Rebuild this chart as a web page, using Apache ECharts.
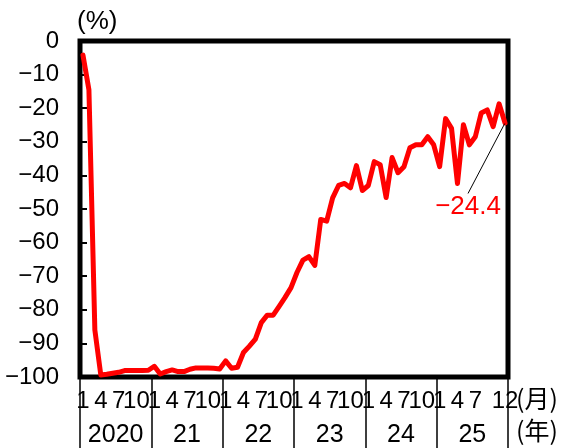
<!DOCTYPE html>
<html>
<head>
<meta charset="utf-8">
<script src="https://cdn.jsdelivr.net/npm/echarts@6/dist/echarts.min.js"></script>
<style>
  html, body { margin: 0; padding: 0; background: #fff; }
  #chart { width: 569px; height: 448px; }
</style>
</head>
<body>
<div id="chart"></div>
<script>
// Year groups shown under the month row
const years = ['2020', '21', '22', '23', '24', '25'];

// Year-on-year change (%) by month
const v2020 = [-4.2, -14.5, -86.0, -99.4, -99.2, -98.9, -98.6, -98.1, -98.1, -98.1, -98.1, -98.0];
const v2021 = [-96.8, -99.1, -98.4, -97.9, -98.4, -98.4, -97.7, -97.3, -97.3, -97.3, -97.4, -97.6];
const v2022 = [-95.2, -97.4, -97.1, -92.7, -90.8, -88.7, -83.8, -81.6, -81.6, -79.0, -76.3, -73.4];
const v2023 = [-68.9, -65.2, -64.2, -66.8, -53.1, -53.6, -46.7, -43.0, -42.4, -43.7, -37.1, -44.5];
const v2024 = [-43.0, -35.9, -36.8, -46.6, -34.7, -39.2, -37.4, -31.8, -30.9, -30.9, -28.5, -30.9];
const v2025 = [-37.4, -23.1, -26.0, -42.4, -24.9, -30.9, -28.5, -21.4, -20.5, -25.5, -18.7, -24.4];

// Month numbers printed on the axis (last year ends on 12)
const monthTicks = [1, 4, 7, 10];
const lastYearTicks = [1, 4, 7, 12];

const yTicks = { min: -100, max: 0, step: 10 };

const values = [].concat(v2020, v2021, v2022, v2023, v2024, v2025);
const categories = [];
years.forEach(function (y) {
  for (let m = 1; m <= 12; m++) categories.push(y + '-' + m);
});

const SANS = "'Liberation Sans', 'Noto Sans', sans-serif";
const CJK = "'Noto Sans CJK JP', sans-serif";
const minus = function (s) { return String(s).replace('-', '\u2212'); };

const lastIdx = values.length - 1;
const seriesData = values.map(function (v, i) {
  if (i !== lastIdx) return v;
  return {
    value: v,
    symbol: 'circle',
    symbolSize: 1,
    label: {
      show: true,
      position: 'bottom',
      distance: 0,
      color: '#ff0000',
      fontFamily: SANS,
      fontSize: 26,
      padding: [6, 0, 0, 0],
      formatter: function (p) { return minus(p.value.toFixed(1)); }
    },
    labelLine: { show: true, lineStyle: { color: '#000', width: 1 } }
  };
});

function monthShown(idx) {
  const yi = Math.floor(idx / 12);
  const m = idx % 12 + 1;
  const list = yi === years.length - 1 ? lastYearTicks : monthTicks;
  return list.indexOf(m) >= 0;
}

const chart = echarts.init(document.getElementById('chart'), null, { renderer: 'canvas' });
chart.setOption({
  animation: false,
  backgroundColor: '#fff',
  grid: {
    left: 80, right: 61, top: 41, bottom: 70,
    show: true, borderColor: '#000', borderWidth: 5, backgroundColor: 'transparent'
  },
  xAxis: [
    {
      // month row
      type: 'category',
      data: categories,
      position: 'bottom',
      boundaryGap: true,
      axisLine: { show: false },
      axisTick: { show: false },
      axisLabel: {
        interval: function (idx) { return monthShown(idx); },
        formatter: function (val) { return val.split('-')[1]; },
        color: '#000',
        fontFamily: SANS,
        fontSize: 24,
        margin: 12
      },
      splitLine: { show: false }
    },
    {
      // year row, its ticks separate the years
      type: 'category',
      data: years,
      position: 'bottom',
      boundaryGap: true,
      axisLine: { show: false },
      axisTick: {
        show: true,
        inside: false,
        length: 72,
        interval: 0,
        lineStyle: { color: '#000', width: 1.5 }
      },
      axisLabel: {
        interval: 0,
        color: '#000',
        fontFamily: SANS,
        fontSize: 25,
        margin: 46
      },
      splitLine: { show: false }
    }
  ],
  yAxis: {
    type: 'value',
    min: yTicks.min,
    max: yTicks.max,
    interval: yTicks.step,
    axisLine: { show: false },
    axisTick: { show: true, inside: true, length: 7, lineStyle: { color: '#000', width: 2 } },
    axisLabel: {
      color: '#000',
      fontFamily: SANS,
      fontSize: 24,
      margin: 21,
      formatter: function (v) { return minus(v); }
    },
    splitLine: { show: false }
  },
  series: [{
    type: 'line',
    xAxisIndex: 0,
    data: seriesData,
    symbol: 'none',
    showSymbol: true,
    lineStyle: { color: '#ff0000', width: 5, join: 'round', cap: 'round' },
    itemStyle: { color: '#ff0000' },
    labelLayout: function () { return { dx: -37, dy: 64 }; },
    z: 3
  }],
  graphic: [
    { type: 'text', left: 77, top: 9, style: { text: '(%)', font: "26px 'Liberation Sans', sans-serif", fill: '#000' } },
    { type: 'text', left: 516, top: 386, style: { text: '(月)', font: '25px ' + CJK, fill: '#000' } },
    { type: 'text', left: 516, top: 418, style: { text: '(年)', font: '25px ' + CJK, fill: '#000' } }
  ]
});
</script>
</body>
</html>
